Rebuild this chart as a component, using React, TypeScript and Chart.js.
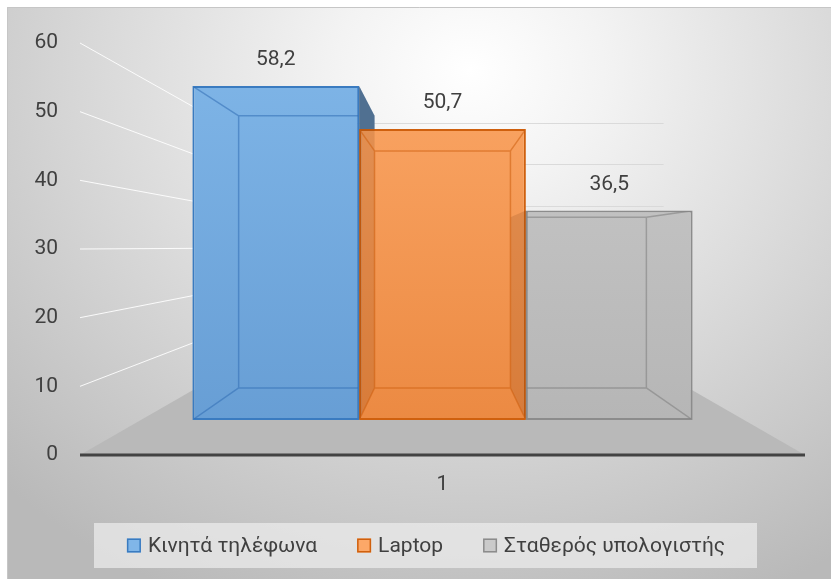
import React, { useEffect, useRef } from 'react';
import { Chart, registerables } from 'chart.js';

Chart.register(...registerables);

// ---------- data ----------
const categories = ['1'];
const seriesNames = ['Κινητά τηλέφωνα', 'Laptop', 'Σταθερός υπολογιστής'];
const mobileValues = [58.2];
const laptopValues = [50.7];
const desktopValues = [36.5];
const yTickMin = 0;
const yTickMax = 60;
const yTickStep = 10;

// ---------- styles ----------
const seriesTop = ['#80b6e8', '#fca868', '#cacaca'];
const seriesBottom = ['#659cd3', '#ea873f', '#b4b4b4'];
const seriesBorder = ['#3a7bc0', '#cf600e', '#8c8c8c'];
const seriesSide = ['#4a7cab', '#c46a28', '#a2a2a2'];
const seriesInner = ['rgba(50,110,180,0.55)', 'rgba(205,95,15,0.55)', 'rgba(130,130,130,0.6)'];

const FONT = '"Roboto", "Open Sans", sans-serif';
const TEXT_COLOR = '#404040';
const BAR_DEPTH = 0.815;
const FLOOR_DEPTH = 0.688;
const BACK_WALL_DEPTH = 0.61;
const VP_VALUE = 30.3;

const fmt = (v: number) => v.toFixed(1).replace('.', ',');

function proj(x: number, y: number, vx: number, vy: number, k: number): [number, number] {
  return [vx + (x - vx) * k, vy + (y - vy) * k];
}

function vanishing(chart: any): [number, number] {
  const a = chart.chartArea;
  const ys = chart.scales.y;
  return [(a.left + a.right) / 2, ys.getPixelForValue(VP_VALUE)];
}

function barRect(el: any) {
  const p = el.getProps(['x', 'y', 'base', 'width'], true);
  return { L: p.x - p.width / 2, R: p.x + p.width / 2, T: Math.min(p.y, p.base), B: Math.max(p.y, p.base), cx: p.x };
}

function sideFaces(chart: any, fill: (i: number) => string) {
  const { ctx } = chart;
  const [vx, vy] = vanishing(chart);
  chart.data.datasets.forEach((_ds: any, i: number) => {
    const meta = chart.getDatasetMeta(i);
    meta.data.forEach((el: any) => {
      const r = barRect(el);
      const [lbx, tby] = proj(r.L, r.T, vx, vy, BAR_DEPTH);
      const [rbx] = proj(r.R, r.T, vx, vy, BAR_DEPTH);
      const [, bby] = proj(r.L, r.B, vx, vy, BAR_DEPTH);
      ctx.fillStyle = fill(i);
      if (r.R < vx) {
        ctx.beginPath();
        ctx.moveTo(r.R, r.T);
        ctx.lineTo(rbx, tby);
        ctx.lineTo(rbx, bby);
        ctx.lineTo(r.R, r.B);
        ctx.closePath();
        ctx.fill();
      }
      if (r.L > vx) {
        ctx.beginPath();
        ctx.moveTo(r.L, r.T);
        ctx.lineTo(lbx, tby);
        ctx.lineTo(lbx, bby);
        ctx.lineTo(r.L, r.B);
        ctx.closePath();
        ctx.fill();
      }
    });
  });
}

const depthPlugin = {
  id: 'depth3d',
  beforeDraw(chart: any) {
    const { ctx, width, height } = chart;
    ctx.save();
    ctx.fillStyle = '#ffffff';
    ctx.fillRect(0, 0, width, height);
    ctx.translate(470, 70);
    ctx.scale(1.15, 1);
    const g = ctx.createRadialGradient(0, 0, 0, 0, 0, 580);
    g.addColorStop(0, '#ffffff');
    g.addColorStop(0.2, '#f3f3f3');
    g.addColorStop(1, '#b9b9b9');
    ctx.fillStyle = g;
    ctx.fillRect(-1000, -1000, 3000, 3000);
    ctx.restore();
    ctx.save();
    ctx.fillStyle = '#ffffff';
    ctx.fillRect(0, 0, width, 7);
    ctx.fillRect(0, 0, 7, height);
    ctx.strokeStyle = '#c6c6c6';
    ctx.lineWidth = 1;
    ctx.beginPath();
    ctx.moveTo(7.5, height);
    ctx.lineTo(7.5, 7.5);
    ctx.lineTo(width, 7.5);
    ctx.stroke();
    ctx.restore();
  },
  beforeDatasetsDraw(chart: any) {
    const { ctx, chartArea: a } = chart;
    const ys = chart.scales.y;
    const [vx, vy] = vanishing(chart);
    ctx.save();
    // back wall grid lines
    const [bwl] = proj(a.left, 0, vx, vy, BACK_WALL_DEPTH);
    const [bwr] = proj(a.right, 0, vx, vy, BACK_WALL_DEPTH);
    ctx.lineWidth = 1;
    for (let v = yTickMin; v <= yTickMax; v += yTickStep) {
      const [, by] = proj(a.left, ys.getPixelForValue(v), vx, vy, BACK_WALL_DEPTH);
      ctx.strokeStyle = 'rgba(215,215,215,0.9)';
      ctx.beginPath();
      ctx.moveTo(bwl, Math.round(by) + 0.5);
      ctx.lineTo(bwr, Math.round(by) + 0.5);
      ctx.stroke();
    }
    // side wall grid lines
    for (let v = yTickMin + yTickStep; v <= yTickMax; v += yTickStep) {
      const fy = ys.getPixelForValue(v);
      const [bx, by] = proj(a.left, fy, vx, vy, FLOOR_DEPTH);
      ctx.strokeStyle = 'rgba(255,255,255,0.9)';
      ctx.beginPath();
      ctx.moveTo(a.left, fy);
      ctx.lineTo(bx, by);
      ctx.stroke();
    }
    // floor
    const fy0 = ys.getPixelForValue(0);
    const [blx, bly] = proj(a.left, fy0, vx, vy, FLOOR_DEPTH);
    const [brx, bry] = proj(a.right, fy0, vx, vy, FLOOR_DEPTH);
    ctx.fillStyle = '#b9b9b9';
    ctx.beginPath();
    ctx.moveTo(a.left, fy0);
    ctx.lineTo(blx, bly);
    ctx.lineTo(brx, bry);
    ctx.lineTo(a.right, fy0);
    ctx.closePath();
    ctx.fill();
    ctx.strokeStyle = '#434343';
    ctx.lineWidth = 3;
    ctx.beginPath();
    ctx.moveTo(a.left, fy0);
    ctx.lineTo(a.right, fy0);
    ctx.stroke();
    // visible side faces of the columns (drawn before the front faces)
    sideFaces(chart, (i) => seriesSide[i]);
    ctx.restore();
  },
  afterDatasetsDraw(chart: any) {
    const { ctx } = chart;
    const [vx, vy] = vanishing(chart);
    ctx.save();
    // side faces showing through the translucent neighbouring fronts
    sideFaces(chart, () => 'rgba(110,50,10,0.16)');
    // interior edges seen through the translucent front faces
    chart.data.datasets.forEach((_ds: any, i: number) => {
      const meta = chart.getDatasetMeta(i);
      meta.data.forEach((el: any) => {
        const r = barRect(el);
        const [lbx, tby] = proj(r.L, r.T, vx, vy, BAR_DEPTH);
        const [rbx, bby] = proj(r.R, r.B, vx, vy, BAR_DEPTH);
        ctx.save();
        ctx.beginPath();
        ctx.rect(r.L + 1, r.T + 1, r.R - r.L - 2, r.B - r.T - 2);
        ctx.clip();
        ctx.strokeStyle = seriesInner[i];
        ctx.lineWidth = 1.5;
        ctx.beginPath();
        ctx.rect(lbx, tby, rbx - lbx, bby - tby);
        ctx.moveTo(r.L, r.T); ctx.lineTo(lbx, tby);
        ctx.moveTo(r.R, r.T); ctx.lineTo(rbx, tby);
        ctx.moveTo(r.L, r.B); ctx.lineTo(lbx, bby);
        ctx.moveTo(r.R, r.B); ctx.lineTo(rbx, bby);
        ctx.stroke();
        ctx.restore();
      });
    });
    // value labels
    ctx.font = `21px ${FONT}`;
    ctx.fillStyle = TEXT_COLOR;
    ctx.textAlign = 'center';
    ctx.textBaseline = 'middle';
    chart.data.datasets.forEach((ds: any, i: number) => {
      const meta = chart.getDatasetMeta(i);
      meta.data.forEach((el: any, j: number) => {
        const r = barRect(el);
        ctx.fillText(fmt(ds.data[j]), r.cx, r.T - 26);
      });
    });
    ctx.restore();
  },
  afterDraw(chart: any) {
    const { ctx } = chart;
    ctx.save();
    // legend box
    const boxL = 94, boxT = 523, boxW = 663, boxH = 45;
    ctx.fillStyle = 'rgba(235,235,235,0.75)';
    ctx.fillRect(boxL, boxT, boxW, boxH);
    ctx.font = `21px ${FONT}`;
    const sq = 14, gapText = 7, gapItem = 40;
    const widths = chart.data.datasets.map((ds: any) => ctx.measureText(ds.label).width);
    const total = widths.reduce((s: number, w: number) => s + sq + gapText + w, 0) + gapItem * (widths.length - 1);
    let x = 426 - total / 2;
    const cy = boxT + boxH / 2;
    ctx.textBaseline = 'middle';
    ctx.textAlign = 'left';
    chart.data.datasets.forEach((ds: any, i: number) => {
      ctx.fillStyle = seriesTop[i];
      ctx.fillRect(x, cy - sq / 2, sq, sq);
      ctx.strokeStyle = seriesBorder[i];
      ctx.lineWidth = 1.5;
      ctx.strokeRect(x + 0.75, cy - sq / 2 + 0.75, sq - 1.5, sq - 1.5);
      ctx.fillStyle = TEXT_COLOR;
      ctx.fillText(ds.label, x + sq + gapText, cy + 1);
      x += sq + gapText + widths[i] + gapItem;
    });
    ctx.restore();
  },
};

function gradientFill(i: number) {
  return (c: any) => {
    const chart = c.chart;
    const a = chart.chartArea;
    if (!a) return seriesTop[i];
    const g = chart.ctx.createLinearGradient(0, a.bottom, 0, a.top);
    g.addColorStop(0, seriesBottom[i]);
    g.addColorStop(1, seriesTop[i]);
    return g;
  };
}

export default function App() {
  const ref = useRef<HTMLCanvasElement | null>(null);
  useEffect(() => {
    if (!ref.current) return;
    const valueSets = [mobileValues, laptopValues, desktopValues];
    const chart = new Chart(ref.current, {
      type: 'bar',
      data: {
        labels: categories,
        datasets: seriesNames.map((name, i) => ({
          label: name,
          data: valueSets[i],
          yAxisID: 'yBar',
          backgroundColor: gradientFill(i),
          borderColor: seriesBorder[i],
          borderWidth: 2,
          borderSkipped: false,
          barPercentage: 1,
          categoryPercentage: 0.69,
        })),
      },
      options: {
        responsive: false,
        animation: false,
        devicePixelRatio: 1,
        layout: { padding: { top: 43, right: 26, bottom: 74, left: 0 } },
        plugins: {
          legend: { display: false },
          tooltip: { enabled: false },
        },
        scales: {
          x: {
            display: true,
            grid: { display: false, drawTicks: false },
            border: { display: false },
            ticks: { font: { family: FONT, size: 21 }, color: TEXT_COLOR, padding: 17 },
            afterFit: (s: any) => { s.height = 50; },
          },
          y: {
            display: true,
            position: 'left',
            min: yTickMin,
            max: yTickMax,
            grid: { display: false, drawTicks: false },
            border: { display: false },
            ticks: { stepSize: yTickStep, font: { family: FONT, size: 21 }, color: TEXT_COLOR, padding: 22 },
            afterFit: (s: any) => { s.width = 80; },
          },
          yBar: {
            display: false,
            position: 'left',
            min: -6.1,
            max: 65.7,
          },
        },
      },
      plugins: [depthPlugin],
    } as any);
    return () => chart.destroy();
  }, []);
  return (
    <div style={{ position: 'absolute', left: 0, top: 0, width: 831, height: 579 }}>
      <canvas ref={ref} width={831} height={579} style={{ display: 'block' }} />
    </div>
  );
}
